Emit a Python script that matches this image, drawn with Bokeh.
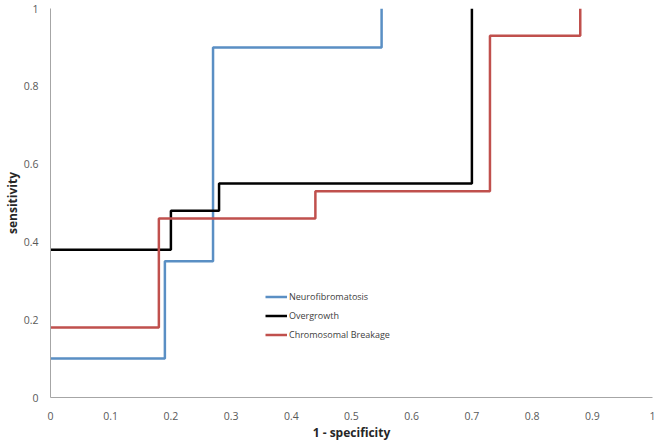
from bokeh.plotting import figure
from bokeh.models import FixedTicker, Legend, LegendItem
from bokeh.embed import file_html
from bokeh.resources import INLINE

# Data
neuro_x = [0.0, 0.19, 0.27, 0.55]
neuro_y = [0.10, 0.35, 0.90, 1.00]
over_x = [0.0, 0.20, 0.28, 0.70]
over_y = [0.38, 0.48, 0.55, 1.00]
chrom_x = [0.0, 0.18, 0.44, 0.73, 0.88]
chrom_y = [0.18, 0.46, 0.53, 0.93, 1.00]

x_ticks = [0, 0.1, 0.2, 0.3, 0.4, 0.5, 0.6, 0.7, 0.8, 0.9, 1]
x_tick_labels = ["0", "0.1", "0.2", "0.3", "0.4", "0.5", "0.6", "0.7", "0.8", "0.9", "1"]
y_ticks = [0, 0.2, 0.4, 0.6, 0.8, 1]
y_tick_labels = ["0", "0.2", "0.4", "0.6", "0.8", "1"]

FONT = "Open Sans"

p = figure(width=656, height=443, output_backend="svg", toolbar_location=None,
           x_range=(0, 1), y_range=(0, 1),
           min_border_left=49, min_border_right=4, min_border_top=8, min_border_bottom=46)
p.outline_line_color = None
p.xgrid.grid_line_color = None
p.ygrid.grid_line_color = None

r1 = p.step(neuro_x, neuro_y, mode="after", line_color="#5a8fc4", line_width=2.5)
r2 = p.step(over_x, over_y, mode="after", line_color="#000000", line_width=2.5)
r3 = p.step(chrom_x, chrom_y, mode="after", line_color="#c0504d", line_width=2.5)

for ax, ticks, labels in ((p.xaxis[0], x_ticks, x_tick_labels), (p.yaxis[0], y_ticks, y_tick_labels)):
    ax.ticker = FixedTicker(ticks=ticks)
    ax.major_label_overrides = {t: l for t, l in zip(ticks, labels)}
    ax.axis_line_color = "#a6a6a6"
    ax.axis_line_width = 1
    ax.major_tick_line_color = None
    ax.minor_tick_line_color = None
    ax.major_label_text_color = "#595959"
    ax.major_label_text_font = FONT
    ax.major_label_text_font_size = "10.5px"
    ax.axis_label_text_font = FONT
    ax.axis_label_text_font_size = "12px"
    ax.axis_label_text_font_style = "bold"
    ax.axis_label_text_color = "#262626"

p.xaxis[0].axis_label = "1 - specificity"
p.yaxis[0].axis_label = "sensitivity"
p.xaxis[0].major_label_standoff = 8
p.yaxis[0].major_label_standoff = 6
p.xaxis[0].axis_label_standoff = 1
p.yaxis[0].axis_label_standoff = 0

legend = Legend(items=[
    LegendItem(label="Neurofibromatosis", renderers=[r1]),
    LegendItem(label="Overgrowth", renderers=[r2]),
    LegendItem(label="Chromosomal Breakage", renderers=[r3]),
], location=(215, 53))
legend.border_line_color = None
legend.background_fill_alpha = 0
legend.padding = 0
legend.margin = 0
legend.spacing = 0
legend.glyph_width = 22
legend.glyph_height = 19
legend.label_height = 19
legend.label_standoff = 2
legend.label_text_font = FONT
legend.label_text_font_size = "9px"
legend.label_text_color = "#404040"
p.add_layout(legend)

open("out.html", "w").write(file_html(p, INLINE))
